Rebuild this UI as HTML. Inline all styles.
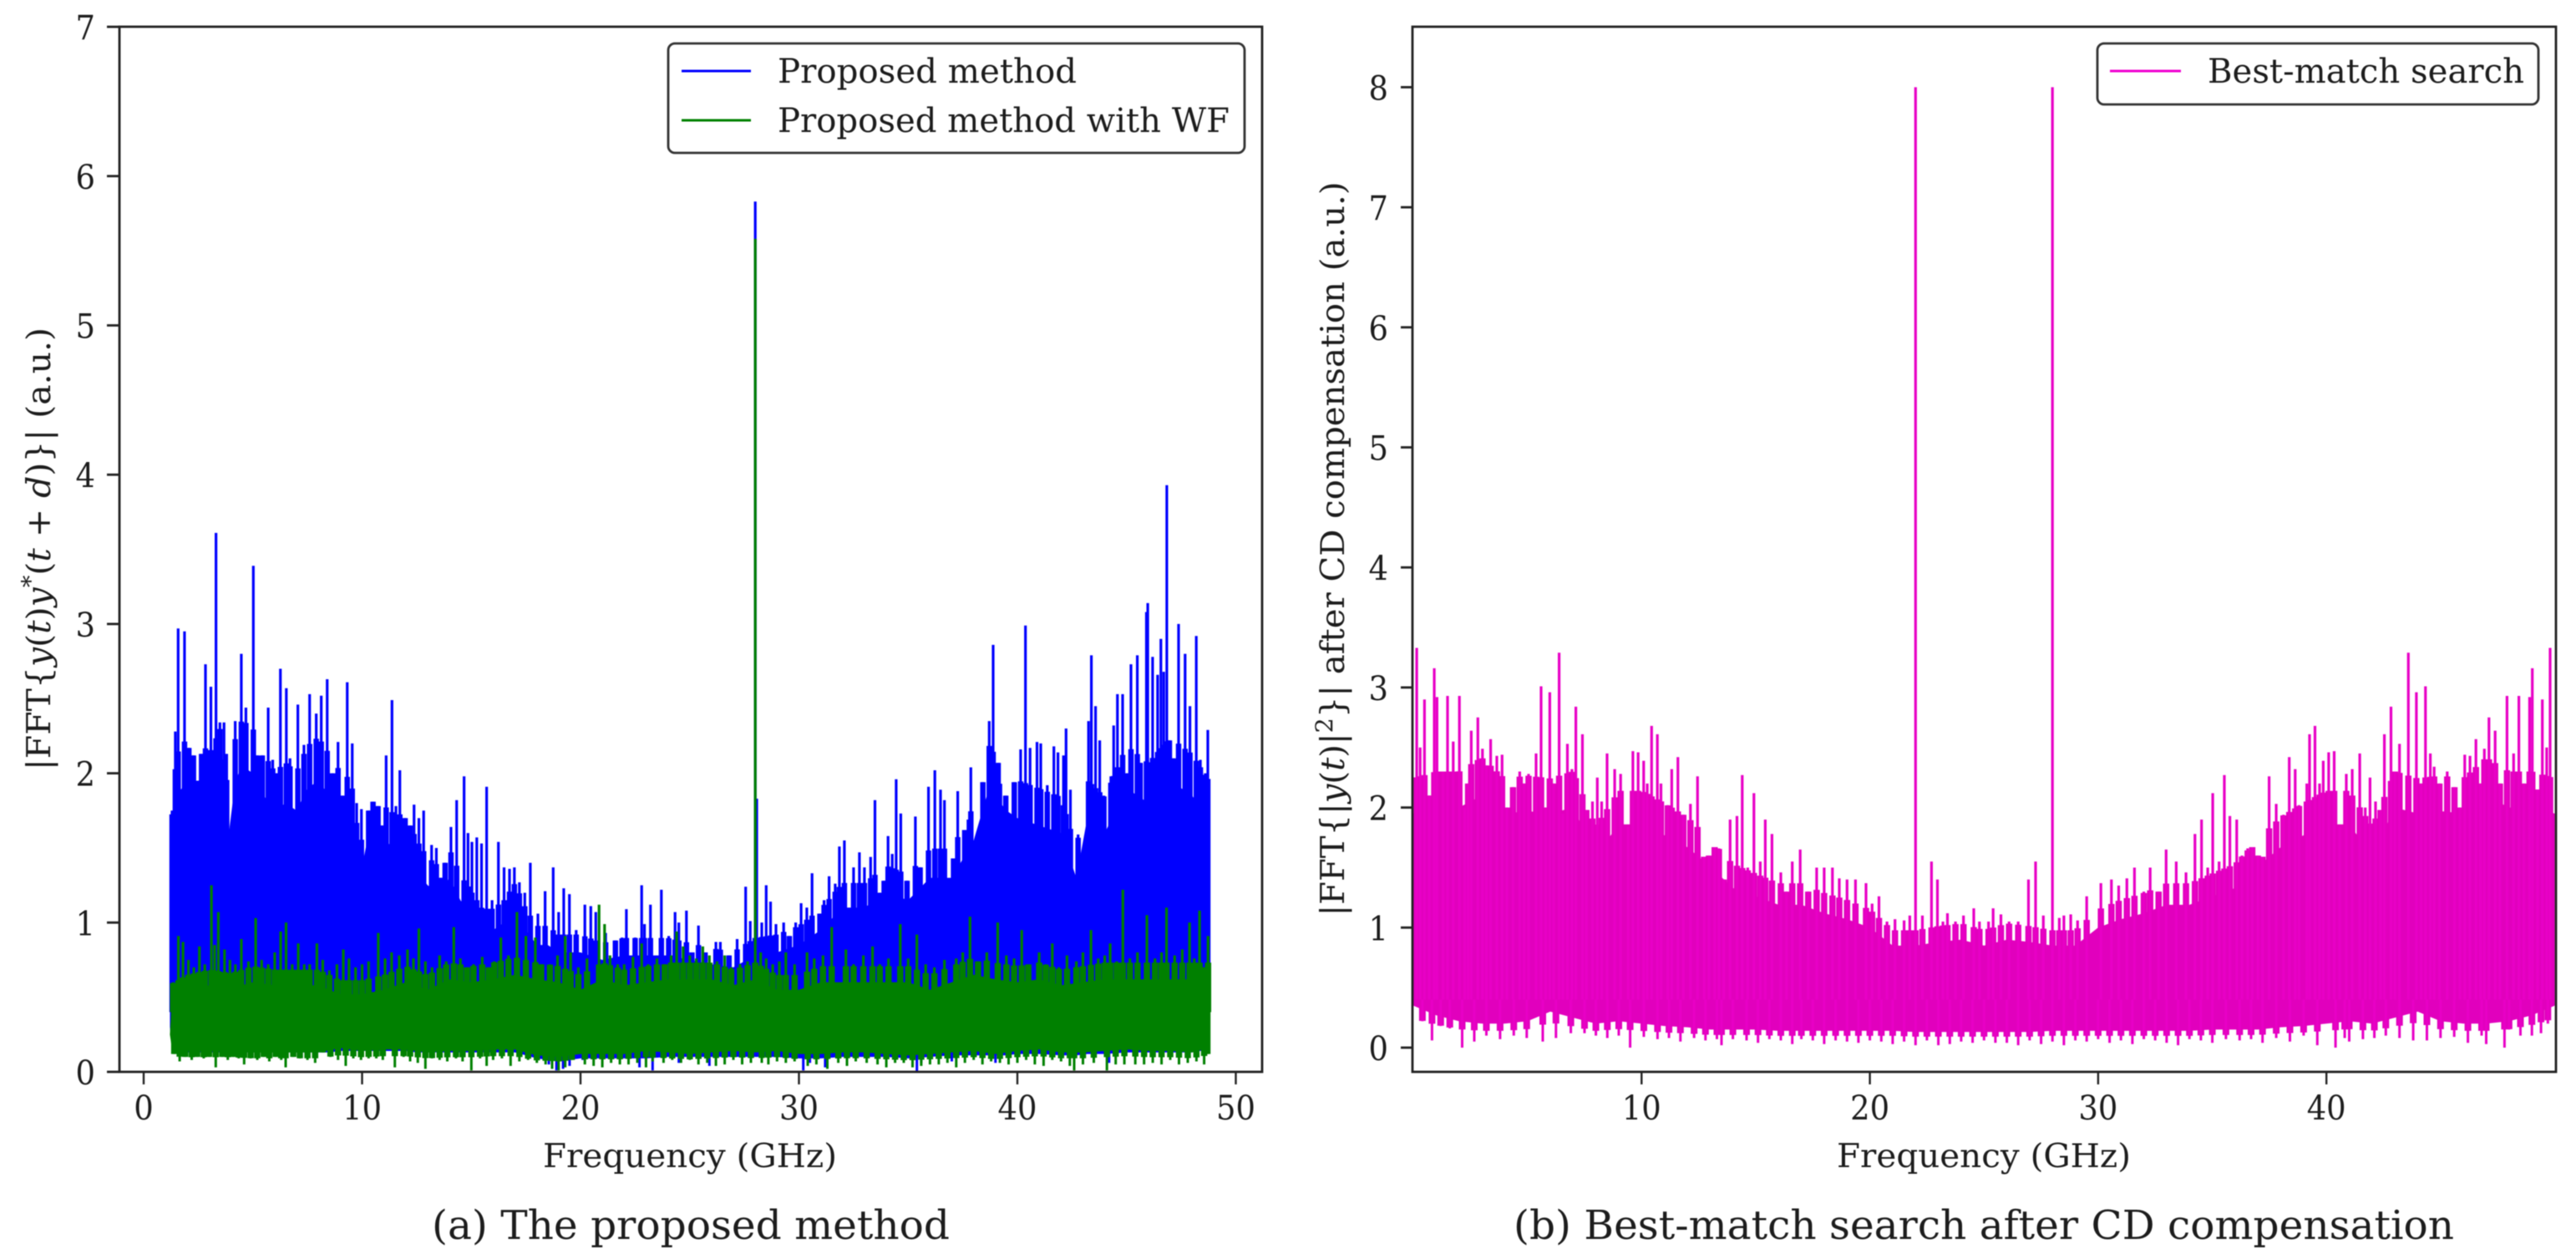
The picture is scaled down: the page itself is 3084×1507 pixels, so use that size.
<!DOCTYPE html>
<html lang="en">
<head>
<meta charset="utf-8">
<title>FFT spectra: proposed method and best-match search</title>
<style>
html,body{margin:0;padding:0;background:#fff;}
svg{display:block;filter:blur(0.6px);}
text{font-family:"DejaVu Serif","Liberation Serif",serif;fill:#1c1c1c;}
</style>
</head>
<body>
<svg id="figure" xmlns="http://www.w3.org/2000/svg" width="3084" height="1507" viewBox="0 0 3084 1507">
  <rect x="0" y="0" width="3084" height="1507" fill="#fff"/>
  <g id="panel-a"></g>
  <g id="panel-b"></g>

  <rect x="143" y="32" width="1368" height="1251" fill="none" stroke="#222" stroke-width="2.8"/>
  <rect x="1691" y="32" width="1369" height="1251" fill="none" stroke="#222" stroke-width="2.8"/>

  <text x="826" y="1397" font-size="39" text-anchor="middle" textLength="352" lengthAdjust="spacingAndGlyphs">Frequency (GHz)</text>
  <text x="2375" y="1397" font-size="39" text-anchor="middle" textLength="352" lengthAdjust="spacingAndGlyphs">Frequency (GHz)</text>

  <text transform="translate(60,657) rotate(-90)" font-size="39" text-anchor="middle" textLength="530" lengthAdjust="spacingAndGlyphs">|FFT{<tspan font-style="italic">y</tspan>(<tspan font-style="italic">t</tspan>)<tspan font-style="italic">y</tspan><tspan dy="-14" font-size="28">*</tspan><tspan dy="14">(</tspan><tspan font-style="italic">t</tspan> + <tspan font-style="italic">d</tspan>)}| (a.u.)</text>
  <text transform="translate(1609,657) rotate(-90)" font-size="39" text-anchor="middle" textLength="879" lengthAdjust="spacingAndGlyphs">|FFT{|<tspan font-style="italic">y</tspan>(<tspan font-style="italic">t</tspan>)|<tspan dy="-14" font-size="28">2</tspan><tspan dy="14">}</tspan>| after CD compensation (a.u.)</text>

  <g>
    <rect x="800" y="52" width="690" height="131" rx="8" ry="8" fill="#fff" stroke="#333" stroke-width="2.8"/>
    <line x1="816" y1="85" x2="899" y2="85" stroke="#0000ff" stroke-width="3"/>
    <text x="931" y="99" font-size="40" textLength="358" lengthAdjust="spacingAndGlyphs">Proposed method</text>
    <line x1="816" y1="144" x2="899" y2="144" stroke="#008000" stroke-width="3"/>
    <text x="931" y="158" font-size="40" textLength="541" lengthAdjust="spacingAndGlyphs">Proposed method with WF</text>
  </g>
  <g>
    <rect x="2511" y="52" width="528" height="73" rx="8" ry="8" fill="#fff" stroke="#333" stroke-width="2.8"/>
    <line x1="2526" y1="85" x2="2611" y2="85" stroke="#f000d0" stroke-width="3"/>
    <text x="2643" y="99" font-size="40" textLength="379" lengthAdjust="spacingAndGlyphs">Best-match search</text>
  </g>

  <text x="827" y="1483" font-size="48" text-anchor="middle" textLength="620" lengthAdjust="spacingAndGlyphs">(a) The proposed method</text>
  <text x="2375" y="1483" font-size="48" text-anchor="middle" textLength="1126" lengthAdjust="spacingAndGlyphs">(b) Best-match search after CD compensation</text>
</svg>
<script>
// ---- Tick labels ----
const xTicksA = [0, 10, 20, 30, 40, 50];
const yTicksA = [0, 1, 2, 3, 4, 5, 6, 7];
const xTicksB = [10, 20, 30, 40];
const yTicksB = [0, 1, 2, 3, 4, 5, 6, 7, 8];

// ---- Proposed method (blue): spike frequencies (GHz) and heights (a.u.) ----
const bluePeakFreq = [
1.3,1.45,1.58,1.87,2.07,2.28,2.5,2.65,2.83,3.08,
3.31,3.49,3.68,3.8,4.19,4.47,4.68,5.02,5.2,5.43,
5.7,5.91,6.1,6.26,6.53,6.7,7.06,7.34,7.6,7.9,
8.13,8.4,8.65,8.9,9.1,9.32,9.55,9.75,9.97,10.3,
10.5,10.73,10.9,11.1,11.37,11.55,11.73,11.97,12.2,12.38,
12.6,12.82,13.18,13.4,13.6,13.8,14.07,14.33,14.67,14.85,
15.03,15.25,15.47,15.7,15.95,16.24,16.5,16.75,16.97,17.2,
17.45,17.7,18.05,18.38,18.75,19.0,19.23,19.49,19.8,20.2,
20.47,20.7,21.15,21.6,21.9,22.1,22.5,22.8,22.93,23.2,
23.7,24.04,24.33,24.5,24.85,25.1,25.4,25.7,26.2,26.4,
26.8,27.17,27.56,27.77,28,28.07,28.3,28.5,28.7,28.95,
29.3,29.56,29.85,30.1,30.36,30.6,30.96,31.15,31.38,31.66,
31.85,32.08,32.5,32.77,33.0,33.28,33.48,33.7,33.9,34.08,
34.27,34.45,34.66,34.95,35.33,35.55,35.93,36.22,36.48,36.66,
37.08,37.27,37.59,37.8,37.87,38.42,38.71,38.89,39.12,39.18,
39.47,39.86,40.15,40.37,40.58,40.9,41.07,41.37,41.67,41.86,
42.11,42.23,42.43,42.78,43.26,43.39,43.58,43.77,43.96,44.28,
44.41,44.58,44.82,45.04,45.2,45.49,45.62,45.91,45.97,46.19,
46.42,46.57,46.7,46.84,46.96,47.15,47.38,47.68,47.9,48.19,
48.38,48.6,48.72];
const bluePeakValue = [
1.75,2.28,2.97,2.95,2.17,2.12,1.95,2.13,2.73,2.58,
3.61,2.34,2.34,2.13,2.35,2.8,2.44,3.39,2.12,2.12,
2.44,2.09,2.0,2.7,2.57,2.1,2.46,2.19,2.53,2.4,
2.52,2.63,2.0,2.21,1.85,2.61,2.2,1.8,1.76,1.75,
1.81,1.78,1.65,2.12,2.49,1.78,2.02,1.7,1.65,1.79,
1.7,1.75,1.52,1.5,1.3,1.4,1.64,1.82,1.98,1.6,
1.54,1.57,1.53,1.91,1.15,1.54,1.37,1.36,1.37,1.27,
1.2,1.4,1.06,1.21,1.37,1.07,1.23,1.19,0.95,1.12,
1.11,1.07,0.93,0.88,0.9,1.09,0.9,1.25,0.99,1.12,
1.22,0.91,1.07,1.0,1.08,0.8,0.98,0.8,0.87,0.87,
0.78,0.89,1.24,1.01,5.83,1.83,1.0,1.25,1.14,0.99,
1.0,0.91,1.0,1.13,1.1,1.33,1.06,1.15,1.31,1.26,
1.51,1.55,1.37,1.47,1.37,1.44,1.82,1.2,1.28,1.58,
1.46,1.96,1.73,1.28,1.71,1.37,1.91,2.02,1.89,1.82,
1.43,1.88,1.62,1.69,2.04,1.94,2.35,2.86,2.07,1.93,
1.85,1.94,2.16,2.99,2.17,2.21,2.2,1.92,2.18,2.14,
2.12,2.3,1.89,1.59,2.35,2.79,2.45,2.22,1.85,1.98,
2.32,2.53,2.53,2.0,2.73,2.79,2.07,3.08,3.14,2.78,
2.66,2.9,2.68,3.93,2.22,2.1,3.0,2.8,2.45,2.92,
2.09,2.0,2.29];
// dense band of the blue trace
const blueBandFreq = [
1.2,1.3,1.5,2,2.5,3,3.5,3.9,4.2,4.5,
5,5.5,6,6.5,7,7.5,8,8.5,9,9.5,
9.9,10.3,11,11.5,12,12.5,13,13.5,14,14.5,
15,15.5,16,16.5,17,17.5,18,18.5,19,20,
21,22,23,24,25,26,27,28,29,30,
31,32,33,34,35,36,37,38,38.7,39.5,
40,41,42,42.7,43.2,44,45,46,47,48,
48.75,48.8];
const blueBandTop = [
1.2,1.5,1.85,1.95,1.95,1.85,2.0,1.6,1.95,2.05,
2.0,1.85,1.75,1.8,1.75,1.9,1.95,1.85,1.75,1.7,
1.3,1.6,1.55,1.5,1.5,1.35,1.25,1.2,1.3,1.15,
1.05,0.95,0.95,1.0,1.1,0.95,0.85,0.85,0.8,0.8,
0.75,0.78,0.78,0.78,0.75,0.72,0.7,0.78,0.8,0.85,
0.95,1.1,1.1,1.2,1.15,1.3,1.3,1.55,1.9,1.75,
1.7,1.65,1.6,1.3,1.7,1.6,1.9,1.8,1.95,1.85,
1.7,1.5];
const blueBandBottom = [
0.3,0.15,0.14,0.13,0.13,0.13,0.13,0.13,0.13,0.13,
0.13,0.13,0.13,0.13,0.13,0.13,0.13,0.13,0.14,0.14,
0.14,0.14,0.14,0.14,0.14,0.13,0.13,0.13,0.13,0.13,
0.13,0.13,0.13,0.13,0.13,0.11,0.09,0.08,0.07,0.09,
0.09,0.09,0.09,0.1,0.1,0.1,0.1,0.1,0.1,0.09,
0.09,0.1,0.1,0.1,0.09,0.1,0.11,0.11,0.11,0.11,
0.12,0.12,0.11,0.11,0.12,0.12,0.13,0.13,0.13,0.13,
0.15,0.3];
const blueDipFreq = [18.55,18.9,19.2,19.5,20.1,22.7,23.3,24.5,25.9,30.2,30.5,31.2,35.4,35.6,37.0,39.0,42.6,44.2];
const blueDipValue = [0.05,0.01,0.02,0.04,0.08,0.03,0.01,0.06,0.04,0.01,0.06,0.03,0.0,0.06,0.07,0.06,0.04,0.06];

// ---- Proposed method with WF (green) ----
const greenPeakFreq = [
1.35,1.59,1.8,2.05,2.3,2.55,2.8,3.1,3.25,3.42,
3.7,3.95,4.2,4.47,4.8,5.13,5.4,5.7,6.0,6.27,
6.52,6.8,7.08,7.35,7.6,7.93,8.2,8.5,8.85,9.14,
9.4,9.7,10.0,10.3,10.74,11.05,11.35,11.7,12.08,12.35,
12.6,12.9,13.2,13.55,13.85,14.2,14.5,14.8,15.1,15.5,
15.8,16.05,16.35,16.7,17.09,17.5,17.93,18.2,18.6,18.95,
19.3,19.55,19.9,20.3,20.85,21.1,21.35,21.7,22.0,22.4,
22.8,23.1,23.5,23.85,24.15,24.4,24.7,25.0,25.3,25.6,
25.9,26.25,26.6,26.9,27.3,27.65,28,28.25,28.5,28.8,
29.1,29.4,29.8,30.37,30.7,31.1,31.5,32.15,32.5,32.95,
33.37,33.7,34.1,34.64,35.0,35.4,35.8,36.2,36.66,37.2,
37.5,37.83,38.2,38.6,39.1,39.5,39.85,40.2,40.5,41.0,
41.3,41.6,41.9,42.27,42.7,43.0,43.37,43.7,44.0,44.25,
44.55,44.83,45.15,45.5,45.93,46.3,46.6,46.83,47.2,47.55,
47.88,48.1,48.34,48.55,48.73];
const greenPeakValue = [
0.6,0.91,0.87,0.75,0.7,0.84,0.72,1.25,0.85,1.07,
0.82,0.75,0.72,0.89,0.74,1.03,0.75,0.72,0.8,0.94,
1.0,0.72,0.86,0.72,0.72,0.86,0.75,0.68,0.72,0.82,
0.76,0.7,0.72,0.74,0.93,0.76,0.8,0.78,0.82,0.76,
0.96,0.74,0.7,0.78,0.74,0.97,0.76,0.7,0.72,0.77,
0.7,0.74,0.9,0.78,1.07,0.91,0.9,0.72,0.72,0.78,
0.91,0.8,0.7,0.76,1.12,0.99,0.78,0.72,0.72,0.77,
0.86,0.72,0.76,0.72,0.78,0.94,0.84,0.78,0.76,0.84,
0.78,0.74,0.78,0.7,0.72,0.74,5.58,0.8,0.76,0.72,
0.74,0.8,0.72,0.8,0.76,0.78,0.97,0.82,0.72,0.78,
0.84,0.72,0.76,0.99,0.76,0.92,0.72,0.7,0.75,0.76,
0.8,1.04,0.74,0.8,1.0,0.78,0.76,0.95,0.72,0.8,
0.72,0.86,0.7,0.78,0.74,0.8,0.95,0.76,0.78,0.86,
0.74,1.22,0.76,0.8,1.05,0.76,0.8,1.1,0.78,0.82,
1.0,0.76,1.08,0.7,0.91];
const greenBandFreq = [1.2,1.3,2,3,4,5,6,7,8,9,10,11,12,13,14,15,16,17,18,19,20,21,22,23,24,25,26,27,28,29,30,31,32,33,34,35,36,37,38,39,40,41,42,43,44,45,46,47,48,48.75,48.8];
const greenBandTop = [0.25,0.5,0.55,0.58,0.56,0.6,0.58,0.58,0.58,0.52,0.52,0.55,0.6,0.55,0.62,0.6,0.62,0.65,0.62,0.6,0.55,0.62,0.58,0.6,0.62,0.62,0.62,0.58,0.62,0.55,0.55,0.6,0.6,0.6,0.6,0.6,0.55,0.6,0.65,0.62,0.6,0.62,0.58,0.6,0.62,0.62,0.62,0.62,0.62,0.62,0.25];
const greenBandBottom = [0.25,0.15,0.14,0.14,0.14,0.13,0.13,0.13,0.13,0.16,0.14,0.15,0.15,0.13,0.14,0.14,0.15,0.15,0.11,0.1,0.12,0.12,0.12,0.14,0.13,0.12,0.13,0.14,0.13,0.14,0.12,0.12,0.13,0.13,0.12,0.11,0.12,0.13,0.14,0.12,0.14,0.15,0.13,0.13,0.14,0.15,0.14,0.14,0.13,0.16,0.25];
const greenDipFreq = [
1.4,1.65,1.9,2.2,2.45,2.75,3.0,3.3,3.6,3.85,
4.1,4.35,4.6,4.9,5.2,5.5,5.75,6.05,6.3,6.5,
6.85,7.15,7.5,7.85,8.2,8.55,8.9,9.25,9.6,9.95,
10.3,10.65,10.95,11.5,11.9,12.2,12.55,12.9,13.2,13.55,
13.9,14.3,14.6,15.0,15.4,15.7,16.0,16.4,16.8,17.2,
17.6,18.0,18.4,18.7,19.0,19.3,19.6,20.2,20.6,21.0,
21.4,21.8,22.2,22.6,23.0,23.3,23.8,24.2,24.6,25.0,
25.4,25.8,26.2,26.6,27.0,27.4,27.8,28.3,28.6,29.0,
29.4,29.8,30.4,30.8,31.3,31.8,32.2,32.6,33.1,33.6,
34.0,34.4,34.8,35.2,35.6,36.0,36.4,36.8,37.2,37.6,
38.0,38.4,38.8,39.2,39.6,40.0,40.4,40.8,41.2,41.6,
42.0,42.4,42.6,43.0,43.5,44.1,44.5,44.9,45.4,45.8,
46.2,46.6,47.0,47.4,47.8,48.2,48.55,48.7];
const greenDipValue = [
0.12,0.07,0.1,0.08,0.1,0.09,0.1,0.03,0.1,0.08,
0.1,0.09,0.05,0.09,0.08,0.1,0.07,0.1,0.08,0.03,
0.1,0.09,0.08,0.06,0.13,0.1,0.08,0.04,0.09,0.08,
0.09,0.09,0.08,0.03,0.1,0.07,0.06,0.02,0.09,0.08,
0.07,0.09,0.07,0.01,0.09,0.04,0.08,0.09,0.04,0.07,
0.08,0.06,0.05,0.02,0.01,0.03,0.08,0.05,0.04,0.03,
0.06,0.05,0.05,0.06,0.03,0.07,0.06,0.08,0.06,0.08,
0.05,0.06,0.04,0.05,0.08,0.05,0.06,0.06,0.05,0.07,
0.06,0.07,0.04,0.05,0.02,0.06,0.04,0.07,0.06,0.05,
0.03,0.06,0.06,0.03,0.04,0.05,0.05,0.06,0.03,0.06,
0.08,0.05,0.07,0.06,0.05,0.06,0.08,0.05,0.04,0.08,
0.07,0.04,0.01,0.05,0.06,0.01,0.05,0.05,0.05,0.05,
0.06,0.05,0.08,0.05,0.06,0.07,0.05,0.12];

// ---- Best-match search (magenta) ----
const magentaPeakFreq = [
0.15,0.3,0.49,0.7,0.92,1.04,1.3,1.5,1.75,2.02,
2.25,2.4,2.54,2.83,3.03,3.2,3.39,3.66,3.89,4.1,
4.37,4.66,4.85,5.05,5.38,5.6,5.8,5.98,6.15,6.39,
6.55,6.75,6.95,7.12,7.41,7.58,7.85,8.06,8.25,8.49,
8.82,9.08,9.41,9.62,9.85,10.09,10.25,10.44,10.69,10.85,
11.15,11.32,11.59,11.83,12.14,12.45,12.74,12.95,13.2,13.39,
13.6,13.88,14.18,14.41,14.65,14.92,15.2,15.42,15.71,16.1,
16.35,16.6,16.95,17.3,17.67,18.0,18.36,18.66,19.0,19.37,
19.83,20.1,20.4,20.75,21.1,21.5,21.75,22,22.3,22.7,
22.96,23.2,23.4,23.75,24.1,24.55,24.8,25.2,25.4,25.74,
26.1,26.5,26.95,27.26,27.6,28,28.3,28.5,28.8,29.1,
29.5,30.12,30.58,30.9,31.26,31.59,32.0,32.28,32.65,32.98,33.42,
33.85,34.24,34.53,34.8,35.02,35.3,35.53,35.77,36.07,36.3,
36.55,36.75,37.0,37.2,37.49,37.8,38.12,38.37,38.63,38.8,
39.14,39.26,39.5,39.7,39.86,40.1,40.34,40.58,40.87,41.13,
41.46,41.7,41.91,42.15,42.37,42.54,42.83,43.0,43.2,43.59,
43.94,44.15,44.34,44.55,44.72,44.95,45.29,45.61,45.85,46.06,
46.29,46.55,46.75,46.92,47.12,47.39,47.6,47.91,48.2,48.43,
48.65,48.9,49.02,49.25,49.46,49.65,49.8];
const magentaPeakValue = [
3.33,2.5,2.9,2.1,3.16,2.92,2.3,2.93,2.55,2.93,
2.0,2.2,2.64,2.75,2.49,2.35,2.57,2.43,2.44,2.0,
2.17,2.3,2.2,2.28,2.45,3.01,2.0,2.96,2.2,3.29,
1.95,2.53,2.32,2.84,2.61,1.98,2.05,2.25,2.05,2.45,
2.32,2.28,1.84,2.47,2.46,2.39,2.2,2.68,2.61,2.2,
2.02,2.32,2.42,1.94,2.03,2.26,1.59,1.6,1.67,1.66,
1.4,1.9,1.93,2.27,1.5,2.12,1.55,1.9,1.78,1.46,
1.3,1.55,1.65,1.3,1.5,1.5,1.5,1.41,1.4,1.4,
1.37,1.2,1.26,1.05,1.07,1.06,1.1,8,1.1,1.55,
1.4,1.05,1.12,1.05,1.1,1.16,1.05,1.05,1.16,1.11,
1.05,1.05,1.4,1.55,1.1,8,1.08,1.1,1.11,1.06,
1.26,1.37,1.4,1.35,1.41,1.5,1.3,1.5,1.3,1.65,1.55,
1.46,1.78,1.9,1.5,2.12,1.55,2.27,1.93,1.9,1.6,
1.66,1.67,1.6,1.59,2.26,2.03,1.94,2.42,2.32,2.02,
2.2,2.61,2.68,2.2,2.39,2.46,2.47,1.84,2.28,2.32,
2.45,2.0,2.25,2.05,1.98,2.61,2.84,2.3,2.53,3.29,
2.96,2.2,3.01,2.45,2.34,2.2,2.3,2.17,2.0,2.44,
2.43,2.57,2.2,2.49,2.75,2.64,2.2,2.93,2.45,2.93,
2.2,2.92,3.16,2.15,2.9,2.5,3.33];
const magentaBandFreq = [0,1,2,3,4,5,6,7,8,9,10,11,12,13,14,15,16,17,18,19,20,21,22,23,24,25,26,27,28,29,30,31,32,33,34,35,36,37,38,39,40,41,42,43,44,45,46,47,48,49,50];
const magentaBandTop = [1.95,2.0,2.0,2.1,1.95,1.97,1.95,2.0,1.6,1.86,1.86,1.77,1.67,1.51,1.33,1.26,1.19,1.19,1.12,1.07,1.0,0.85,0.85,0.88,0.9,0.85,0.9,0.88,0.85,0.85,1.0,1.07,1.12,1.19,1.19,1.26,1.33,1.51,1.67,1.77,1.86,1.86,1.6,2.0,1.95,1.97,1.95,2.1,2.0,2.0,1.95];
const magentaBandBottom = [0.35,0.27,0.22,0.2,0.2,0.22,0.3,0.25,0.2,0.22,0.2,0.18,0.17,0.15,0.15,0.15,0.14,0.14,0.14,0.14,0.14,0.14,0.13,0.13,0.13,0.13,0.13,0.13,0.14,0.14,0.14,0.14,0.14,0.14,0.14,0.15,0.15,0.15,0.17,0.18,0.2,0.22,0.2,0.25,0.3,0.22,0.2,0.2,0.22,0.27,0.35];
const magentaDipFreq = [
0.4,0.82,1.2,1.6,2.14,2.67,3.2,3.8,4.4,4.97,
5.67,6.25,6.9,7.5,8.0,8.5,9.0,9.5,10.1,10.7,
11.2,11.7,12.3,12.8,13.3,13.5,14.0,14.6,15.1,15.6,
16.1,16.6,17.0,17.5,18.0,18.5,19.0,19.5,20.0,20.5,
21.0,21.5,22.0,22.5,23.0,23.5,24.0,24.5,25.0,25.5,
26.0,26.5,27.0,27.5,28.0,28.5,29.0,29.5,30.0,30.5,
31.0,31.5,32.0,32.5,33.0,33.5,34.0,34.5,35.0,35.6,
36.2,36.7,37.2,37.8,38.4,39.0,39.6,40.4,40.8,41.0,
41.6,42.1,42.6,43.2,43.8,44.4,45.0,45.6,46.2,46.8,
47.0,47.8,48.0,48.5,49.0,49.4,49.7];
const magentaDipValue = [
0.22,0.06,0.18,0.16,0.0,0.05,0.1,0.07,0.1,0.08,
0.05,0.08,0.12,0.12,0.1,0.08,0.1,0.0,0.09,0.07,
0.08,0.05,0.08,0.06,0.07,0.02,0.07,0.06,0.04,0.07,
0.06,0.03,0.07,0.06,0.03,0.06,0.05,0.04,0.06,0.05,
0.03,0.05,0.02,0.06,0.02,0.03,0.05,0.04,0.06,0.04,
0.04,0.02,0.06,0.03,0.05,0.02,0.06,0.05,0.07,0.04,
0.06,0.03,0.07,0.06,0.04,0.02,0.07,0.06,0.04,0.07,
0.06,0.07,0.04,0.08,0.05,0.1,0.02,0.0,0.08,0.05,
0.07,0.08,0.1,0.08,0.06,0.06,0.08,0.09,0.04,0.1,
0.03,0.0,0.15,0.1,0.1,0.12,0.2];

// ---- Axis functions ----
function xScaleA(f) { return 172 + 26.15 * f; }
function yScaleA(v) { return 1283 - 178.7 * v; }
function xScaleB(f) { return 1692 + 27.33 * f; }
function yScaleB(v) { return 1254 - 143.7 * v; }

const SVGNS = 'http://www.w3.org/2000/svg';
function make(tag, parent, attrs) {
  const node = document.createElementNS(SVGNS, tag);
  for (const key in attrs) node.setAttribute(key, attrs[key]);
  parent.appendChild(node);
  return node;
}
function bandPath(freq, top, bottom, xs, ys) {
  let d = '';
  for (let i = 0; i < freq.length; i++) d += (i ? 'L' : 'M') + xs(freq[i]).toFixed(1) + ' ' + ys(top[i]).toFixed(1);
  for (let i = freq.length - 1; i >= 0; i--) d += 'L' + xs(freq[i]).toFixed(1) + ' ' + ys(bottom[i]).toFixed(1);
  return d + 'Z';
}
function spikePath(freq, value, xs, ys) {
  const anchor = 0.4;
  let d = '';
  for (let i = 0; i < freq.length; i++) {
    d += 'M' + xs(freq[i]).toFixed(1) + ' ' + ys(anchor).toFixed(1) + 'L' + xs(freq[i]).toFixed(1) + ' ' + ys(value[i]).toFixed(1);
  }
  return d;
}
function edgeAt(f, knots, edge) {
  for (let i = 1; i < knots.length; i++) {
    if (f <= knots[i]) {
      const t = (f - knots[i - 1]) / (knots[i] - knots[i - 1]);
      return edge[i - 1] + t * (edge[i] - edge[i - 1]);
    }
  }
  return edge[edge.length - 1];
}
// Wider plateau beneath each narrow spike: the trace fills solid up to a cap above the band edge.
function shoulderPath(freq, value, knots, edge, factor, isUpper, xs, ys) {
  const anchor = 0.4;
  let d = '';
  for (let i = 0; i < freq.length; i++) {
    const cap = edgeAt(freq[i], knots, edge) * factor;
    const level = isUpper ? Math.min(value[i], cap) : Math.max(value[i], cap);
    d += 'M' + xs(freq[i]).toFixed(1) + ' ' + ys(anchor).toFixed(1) + 'L' + xs(freq[i]).toFixed(1) + ' ' + ys(level).toFixed(1);
  }
  return d;
}

const panelA = document.getElementById('panel-a');
const panelB = document.getElementById('panel-b');

// ---- Panel (a) series ----
const blueBand = make('path', panelA, { d: bandPath(blueBandFreq, blueBandTop, blueBandBottom, xScaleA, yScaleA), fill: '#0000ff' });


const blueUpperFill = make('path', panelA, { d: shoulderPath(bluePeakFreq, bluePeakValue, blueBandFreq, blueBandTop, 1.15, true, xScaleA, yScaleA), stroke: '#0000ff', 'stroke-width': 6.5, fill: 'none' });


const blueSpikes = make('path', panelA, { d: spikePath(bluePeakFreq, bluePeakValue, xScaleA, yScaleA), stroke: '#0000ff', 'stroke-width': 3.2, fill: 'none' });


const blueDips = make('path', panelA, { d: spikePath(blueDipFreq, blueDipValue, xScaleA, yScaleA), stroke: '#0000ff', 'stroke-width': 3, fill: 'none' });


const greenBand = make('path', panelA, { d: bandPath(greenBandFreq, greenBandTop, greenBandBottom, xScaleA, yScaleA), fill: '#008000' });


const greenUpperFill = make('path', panelA, { d: shoulderPath(greenPeakFreq, greenPeakValue, greenBandFreq, greenBandTop, 1.18, true, xScaleA, yScaleA), stroke: '#008000', 'stroke-width': 7.5, fill: 'none' });


const greenLowerFill = make('path', panelA, { d: shoulderPath(greenDipFreq, greenDipValue, greenBandFreq, greenBandBottom, 0.7, false, xScaleA, yScaleA), stroke: '#008000', 'stroke-width': 7.5, fill: 'none' });


const greenSpikes = make('path', panelA, { d: spikePath(greenPeakFreq, greenPeakValue, xScaleA, yScaleA), stroke: '#008000', 'stroke-width': 3.2, fill: 'none' });


const greenDips = make('path', panelA, { d: spikePath(greenDipFreq, greenDipValue, xScaleA, yScaleA), stroke: '#008000', 'stroke-width': 3, fill: 'none' });



// ---- Panel (b) series ----
const magentaBand = make('path', panelB, { d: bandPath(magentaBandFreq, magentaBandTop, magentaBandBottom, xScaleB, yScaleB), fill: '#e100bd' });


const magentaUpperFill = make('path', panelB, { d: shoulderPath(magentaPeakFreq, magentaPeakValue, magentaBandFreq, magentaBandTop, 1.15, true, xScaleB, yScaleB), stroke: '#e100bd', 'stroke-width': 7.5, fill: 'none' });


const magentaLowerFill = make('path', panelB, { d: shoulderPath(magentaDipFreq, magentaDipValue, magentaBandFreq, magentaBandBottom, 0.7, false, xScaleB, yScaleB), stroke: '#e100bd', 'stroke-width': 8, fill: 'none' });


const magentaSpikes = make('path', panelB, { d: spikePath(magentaPeakFreq, magentaPeakValue, xScaleB, yScaleB), stroke: '#e800c6', 'stroke-width': 3.2, fill: 'none' });


const magentaDips = make('path', panelB, { d: spikePath(magentaDipFreq, magentaDipValue, xScaleB, yScaleB), stroke: '#e800c6', 'stroke-width': 3, fill: 'none' });



// ---- Ticks ----
function labelWidth(label) { return String(label).length * 23.5; }

xTicksA.forEach(function (t) {
  const tick = make('line', panelA, { x1: xScaleA(t), x2: xScaleA(t), y1: 1283, y2: 1298, stroke: '#222', 'stroke-width': 2.4 });
  
  
  const label = make('text', panelA, { x: xScaleA(t), y: 1340, 'font-size': 40, 'text-anchor': 'middle', textLength: labelWidth(t), lengthAdjust: 'spacingAndGlyphs' });
  label.textContent = t;
  
  
});
yTicksA.forEach(function (t) {
  const tick = make('line', panelA, { x1: 128, x2: 143, y1: yScaleA(t), y2: yScaleA(t), stroke: '#222', 'stroke-width': 2.8 });
  
  
  const label = make('text', panelA, { x: 114, y: yScaleA(t) + 15, 'font-size': 40, 'text-anchor': 'end', textLength: labelWidth(t), lengthAdjust: 'spacingAndGlyphs' });
  label.textContent = t;
  
  
});
xTicksB.forEach(function (t) {
  const tick = make('line', panelB, { x1: xScaleB(t), x2: xScaleB(t), y1: 1283, y2: 1298, stroke: '#222', 'stroke-width': 2.4 });
  
  
  const label = make('text', panelB, { x: xScaleB(t), y: 1340, 'font-size': 40, 'text-anchor': 'middle', textLength: labelWidth(t), lengthAdjust: 'spacingAndGlyphs' });
  label.textContent = t;
  
  
});
yTicksB.forEach(function (t) {
  const tick = make('line', panelB, { x1: 1677, x2: 1691, y1: yScaleB(t), y2: yScaleB(t), stroke: '#222', 'stroke-width': 2.8 });
  
  
  const label = make('text', panelB, { x: 1662, y: yScaleB(t) + 15, 'font-size': 40, 'text-anchor': 'end', textLength: labelWidth(t), lengthAdjust: 'spacingAndGlyphs' });
  label.textContent = t;
  
  
});
</script>
</body>
</html>
